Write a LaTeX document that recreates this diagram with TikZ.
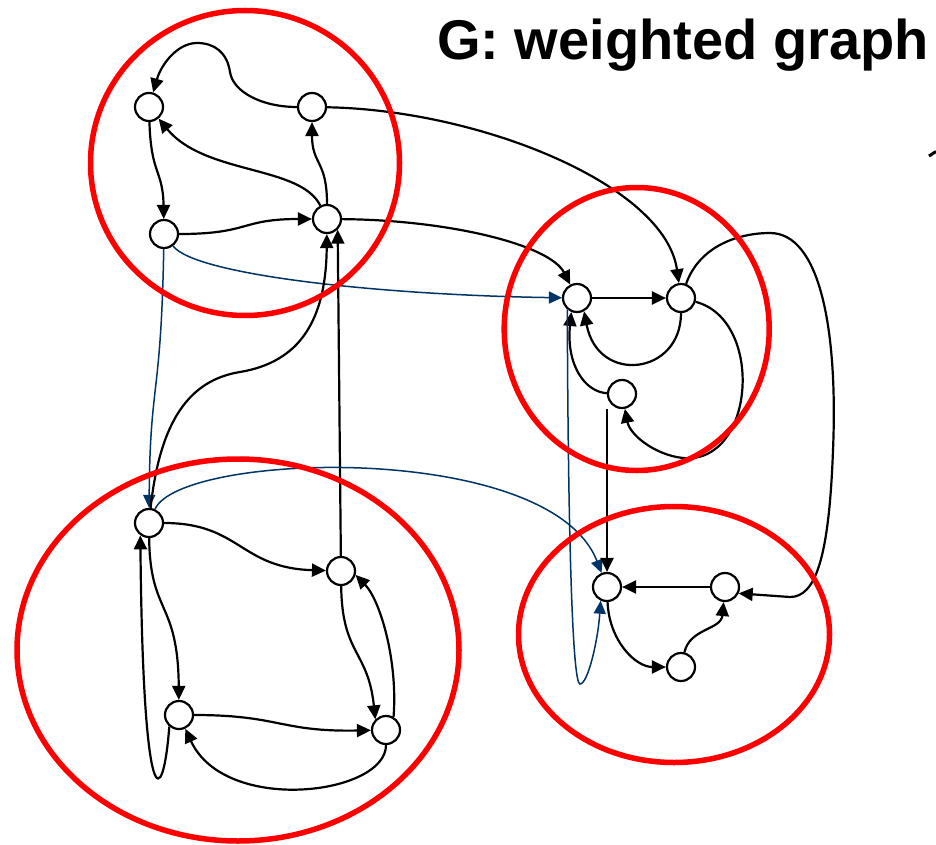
\documentclass[tikz,border=0pt]{standalone}
\usepackage{fontspec}
\setmainfont{Liberation Sans}
\usetikzlibrary{arrows.meta}
\definecolor{navy}{RGB}{0,51,102}
\definecolor{clred}{RGB}{255,0,0}
\tikzset{
  vtx/.style={circle, draw=black, line width=2.2pt, fill=white, minimum size=28pt, inner sep=0pt},
  blk/.style={draw=black, line width=2.2pt, -{Triangle[length=14pt,width=13pt]}},
  blu/.style={draw=navy, line width=1.5pt, -{Triangle[length=13pt,width=12pt]}},
  cluster/.style={draw=clred, line width=5.5pt},
}
\begin{document}
\begin{tikzpicture}[x=1pt,y=-1pt]
\useasboundingbox (0,0) rectangle (936,845);
% title
\node[anchor=base west, inner sep=0pt, font=\fontsize{56}{62}\selectfont\bfseries] (title) at (437,60) {G: weighted graph};
% vertices
\node[vtx] (A) at (149,107) {};
\node[vtx] (B) at (312,107) {};
\node[vtx] (C) at (164,234) {};
\node[vtx] (D) at (327,219) {};
\node[vtx] (E) at (577,298) {};
\node[vtx] (F) at (681,298) {};
\node[vtx] (I) at (622,394) {};
\node[vtx] (J) at (607,587) {};
\node[vtx] (K) at (725,587) {};
\node[vtx] (L) at (681,667) {};
\node[vtx] (G) at (149,523) {};
\node[vtx] (H) at (341,571) {};
\node[vtx] (M) at (179,715) {};
\node[vtx] (N) at (386,730) {};
% top-left cluster
\draw[blk] (B) .. controls (262,107) and (233,92) .. (230,72) .. controls (227,52) and (214,43) .. (197,43) .. controls (177,43) and (161,65) .. (A);
\draw[blk] (A) .. controls (151,175) and (163,170) .. (C);
\draw[blk] (C) .. controls (250,234) and (240,219) .. (D);
\draw[blk] (D) .. controls (300,165) and (205,175) .. (A);
\draw[blk] (D) .. controls (327,160) and (312,165) .. (B);
\draw[blk] (B) .. controls (480,110) and (665,185) .. (F);
\draw[blk] (D) .. controls (450,220) and (550,245) .. (E);
\draw[blu] (C) .. controls (195,275) and (380,295) .. (E);
\draw[blu] (C) .. controls (161,400) and (150,380) .. (G);
\draw[blk] (G) .. controls (160,420) and (190,380) .. (240,372) .. controls (300,362) and (326,320) .. (D);
\draw[blk] (H) -- (D.south east);
\draw[blu] (G) .. controls (180,452) and (550,440) .. (J);
% right cluster
\draw[blk] (E) -- (F);
\draw[blk] (F) .. controls (681,375) and (598,385) .. (E.-62);
\draw[blk] (I) .. controls (585,392) and (566,365) .. (E.-112);
\draw[blk] (F) .. controls (765,320) and (755,465) .. (683,458) .. controls (655,455) and (630,435) .. (I);
\draw[blk] (F) .. controls (700,245) and (740,233) .. (770,233) .. controls (820,233) and (838,330) .. (833,450) .. controls (829,560) and (815,597) .. (790,597) -- (K.-25);
\draw[blk] (J.north |- I.south) -- (J);
% bottom-right cluster
\draw[blk] (J) .. controls (609,640) and (635,667) .. (L);
\draw[blk] (K) -- (J);
\draw[blk] (L) .. controls (690,628) and (721,630) .. (K);
\draw[blu] (E.-130) .. controls (568,520) and (572,684) .. (580,684) .. controls (588,684) and (598,640) .. (J.-115);
% bottom-left cluster
\draw[blk] (G) .. controls (240,523) and (240,568) .. (H);
\draw[blk] (G) .. controls (150,615) and (178,600) .. (M);
\draw[blk] (H) .. controls (342,655) and (368,650) .. (N.north west);
\draw[blk] (N.60) .. controls (398,660) and (380,600) .. (H.-15);
\draw[blk] (M) .. controls (280,715) and (280,732) .. (N);
\draw[blk] (N) .. controls (386,795) and (225,815) .. (M);
\draw[blk] (M.-130) .. controls (163,810) and (143,820) .. (G.-125);
% clusters
\draw[cluster] (245,163) ellipse [x radius=154.5pt, y radius=152.5pt];
\draw[cluster] (636.7,329) ellipse [x radius=132.5pt, y radius=141.5pt];
\draw[cluster] (674,634.5) ellipse [x radius=155.5pt, y radius=128pt];
\draw[cluster] (238,650) ellipse [x radius=221pt, y radius=191pt];
% cut-off fragment at the right edge
\draw[line width=3pt] (929,156) -- (936,151.5);
\end{tikzpicture}
\end{document}
